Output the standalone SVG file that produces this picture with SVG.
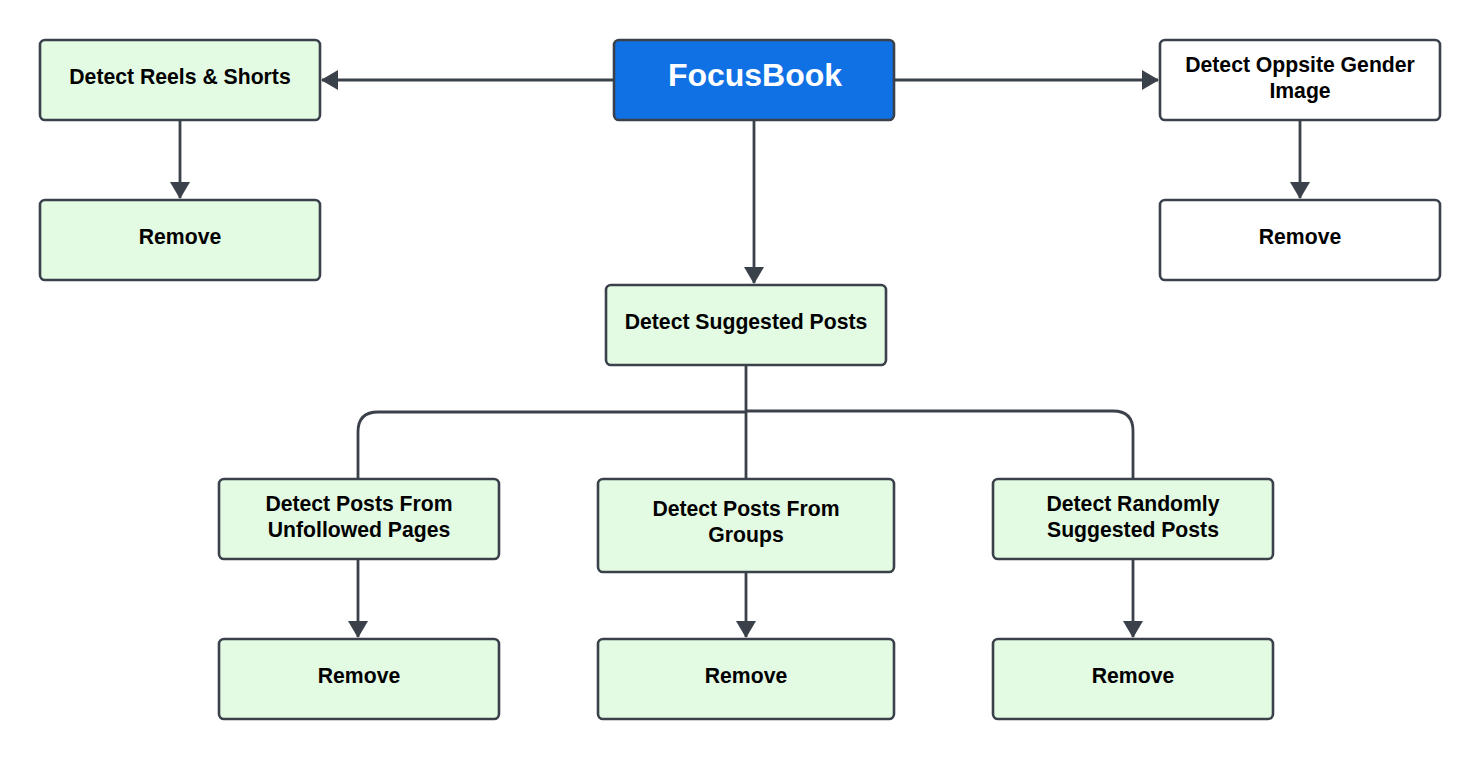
<svg xmlns="http://www.w3.org/2000/svg" width="1480" height="759" viewBox="0 0 1480 759">
<style>
.box{fill:#E3FAE3;stroke:#3A414A;stroke-width:2.6}
.wbox{fill:#FFFFFF;stroke:#3A414A;stroke-width:2.6}
.bbox{fill:#1071E5;stroke:#3A414A;stroke-width:2.6}
.t{font-family:"Liberation Sans",Arial,sans-serif;font-weight:bold;font-size:21.2px;fill:#000;text-anchor:middle}
.tw{font-family:"Liberation Sans",Arial,sans-serif;font-weight:bold;font-size:32px;fill:#FFFFFF;text-anchor:middle}
.c{fill:none;stroke:#3A414A;stroke-width:2.8}
</style>
<defs>
<marker id="ah" viewBox="0 0 17 20" markerWidth="17" markerHeight="20" refX="16" refY="10" orient="auto" markerUnits="userSpaceOnUse">
<path d="M0,0 L17,10 L0,20 Z" fill="#3A414A"/>
</marker>
</defs>
<rect width="1480" height="759" fill="#FFFFFF"/>
<g id="connectors">
<path class="c" d="M614,80 L322,80" marker-end="url(#ah)"/>
<path class="c" d="M894,80 L1158,80" marker-end="url(#ah)"/>
<path class="c" d="M754,120 L754,283" marker-end="url(#ah)"/>
<path class="c" d="M180,120 L180,198" marker-end="url(#ah)"/>
<path class="c" d="M1300,120 L1300,198" marker-end="url(#ah)"/>
<path class="c" d="M746,365 L746,479"/>
<path class="c" d="M746,412 L378,412 Q358,412 358,432 L358,479"/>
<path class="c" d="M746,411 L1113,411 Q1133,411 1133,431 L1133,479"/>
<path class="c" d="M358,559 L358,637" marker-end="url(#ah)"/>
<path class="c" d="M746,572 L746,637" marker-end="url(#ah)"/>
<path class="c" d="M1133,559 L1133,637" marker-end="url(#ah)"/>
</g>
<g id="focusbook">
<rect class="bbox" x="614" y="40" width="280" height="80" rx="5"/>
<text class="tw" x="755" y="86">FocusBook</text>
</g>
<g id="reels">
<rect class="box" x="40" y="40" width="280" height="80" rx="5"/>
<text class="t" x="180" y="84">Detect Reels &amp; Shorts</text>
</g>
<g id="reels-remove">
<rect class="box" x="40" y="200" width="280" height="80" rx="5"/>
<text class="t" x="180" y="244">Remove</text>
</g>
<g id="gender">
<rect class="wbox" x="1160" y="40" width="280" height="80" rx="5"/>
<text class="t" x="1300" y="72">Detect Oppsite Gender</text>
<text class="t" x="1300" y="98">Image</text>
</g>
<g id="gender-remove">
<rect class="wbox" x="1160" y="200" width="280" height="80" rx="5"/>
<text class="t" x="1300" y="244">Remove</text>
</g>
<g id="suggested">
<rect class="box" x="606" y="285" width="280" height="80" rx="5"/>
<text class="t" x="746" y="329">Detect Suggested Posts</text>
</g>
<g id="unfollowed">
<rect class="box" x="219" y="479" width="280" height="80" rx="5"/>
<text class="t" x="359" y="511">Detect Posts From</text>
<text class="t" x="359" y="537">Unfollowed Pages</text>
</g>
<g id="groups">
<rect class="box" x="598" y="479" width="296" height="93" rx="5"/>
<text class="t" x="746" y="516">Detect Posts From</text>
<text class="t" x="746" y="542">Groups</text>
</g>
<g id="randomly">
<rect class="box" x="993" y="479" width="280" height="80" rx="5"/>
<text class="t" x="1133" y="511">Detect Randomly</text>
<text class="t" x="1133" y="537">Suggested Posts</text>
</g>
<g id="unfollowed-remove">
<rect class="box" x="219" y="639" width="280" height="80" rx="5"/>
<text class="t" x="359" y="683">Remove</text>
</g>
<g id="groups-remove">
<rect class="box" x="598" y="639" width="296" height="80" rx="5"/>
<text class="t" x="746" y="683">Remove</text>
</g>
<g id="randomly-remove">
<rect class="box" x="993" y="639" width="280" height="80" rx="5"/>
<text class="t" x="1133" y="683">Remove</text>
</g>
</svg>
